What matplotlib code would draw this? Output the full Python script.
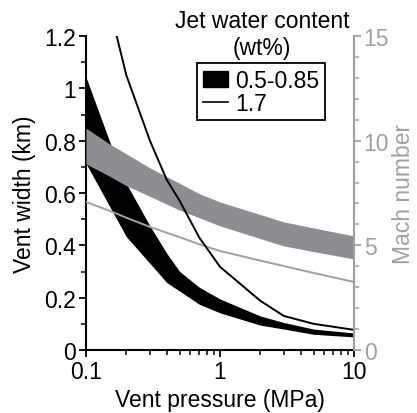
import numpy as np
import matplotlib
matplotlib.use("Agg")
import matplotlib.pyplot as plt
from matplotlib.patches import Patch
from matplotlib.lines import Line2D
from matplotlib.ticker import MultipleLocator, FormatStrFormatter, LogLocator

plt.rcParams['font.family'] = ['Liberation Sans', 'DejaVu Sans']
plt.rcParams['font.size'] = 16.5

# vent width (km), 0.5-0.85 wt% band
p_band = [0.1, 0.15, 0.2, 0.3, 0.4, 0.5, 0.7, 1, 2, 3, 5, 10]
w_band_hi = [1.043, 0.797, 0.636, 0.474, 0.37, 0.30, 0.24, 0.195, 0.13, 0.105, 0.08, 0.065]
w_band_lo = [0.713, 0.549, 0.433, 0.331, 0.258, 0.225, 0.175, 0.142, 0.095, 0.08, 0.06, 0.05]

# vent width (km), 1.7 wt%
p_17 = [0.15, 0.2, 0.3, 0.4, 0.5, 0.7, 1, 2, 3, 5, 10]
w_17 = [1.31, 1.05, 0.80, 0.651, 0.57, 0.43, 0.318, 0.188, 0.13, 0.1, 0.077]

# Mach number band and 1.7 wt% line
p_mach = [0.1, 0.15, 0.2, 0.3, 0.5, 0.7, 1, 2, 3, 5, 10]
m_band_hi = [10.6, 9.84, 9.37, 8.7, 7.96, 7.47, 7.07, 6.47, 6.12, 5.83, 5.45]
m_band_lo = [8.89, 8.3, 7.85, 7.34, 6.68, 6.32, 5.93, 5.32, 4.97, 4.7, 4.35]
m_17 = [7.07, 6.65, 6.32, 5.88, 5.39, 5.05, 4.73, 4.27, 4.01, 3.68, 3.25]

grey = '#a0a0a0'
band_grey = '#8e8e91'

fig = plt.figure(figsize=(4.17, 4.14), dpi=100)
ax = fig.add_axes([86/417, 1 - 351/414, (354 - 86)/417, (351 - 37)/414])
ax2 = ax.twinx()

ax.fill_between(p_band, w_band_lo, w_band_hi, color='black', lw=0)
ax2.fill_between(p_mach, m_band_lo, m_band_hi, color=band_grey, lw=0)
ax2.plot(p_mach, m_17, color=grey, lw=1.4)
ax2.plot(p_17, w_17, color='black', lw=1.4, transform=ax.transData, clip_on=True)

ax.set_xscale('log')
ax.set_xlim(0.1, 10)
ax.set_ylim(0, 1.2)
ax2.set_ylim(0, 15)

ax.set_xticks([0.1, 1, 10])
ax.set_xticklabels(['0.1', '1', '10'])
ax.xaxis.set_minor_locator(LogLocator(base=10, subs=np.arange(2, 10)))
ax.yaxis.set_major_locator(MultipleLocator(0.2))
ax.yaxis.set_minor_locator(MultipleLocator(0.1))
ax.yaxis.set_major_formatter(FormatStrFormatter('%g'))
ax2.yaxis.set_major_locator(MultipleLocator(5))
ax2.yaxis.set_minor_locator(MultipleLocator(1))

ax.spines['top'].set_visible(False)
ax2.spines['top'].set_visible(False)
ax.spines['right'].set_visible(False)
ax2.spines['left'].set_visible(False)
ax2.spines['bottom'].set_visible(False)
ax.spines['left'].set_linewidth(1.5)
ax.spines['bottom'].set_linewidth(1.5)
ax2.spines['right'].set_linewidth(1.5)
ax2.spines['right'].set_color(grey)

ax.tick_params(which='major', direction='out', length=5, width=1.3, pad=2)
ax.tick_params(which='minor', direction='out', length=3.5, width=1.1)
ax2.tick_params(which='major', direction='out', length=5, width=1.3, color=grey, labelcolor=grey, pad=2)
ax2.tick_params(which='minor', direction='out', length=3.5, width=1.1, color=grey)

ax.set_xlabel('Vent pressure (MPa)', labelpad=4)
ax.set_ylabel('Vent width (km)', labelpad=6)
ax2.set_ylabel('Mach number', color=grey, labelpad=2)

handles = [Patch(facecolor='black', edgecolor='black'),
           Line2D([], [], color='black', lw=1.2)]
leg = fig.legend(handles, ['0.5-0.85', '1.7'], loc='upper left',
                 bbox_to_anchor=(197/417, 1 - 64/414), frameon=True, fancybox=False,
                 edgecolor='black', framealpha=1, borderpad=0.25, handlelength=1.1,
                 handletextpad=0.3, labelspacing=0.0, borderaxespad=0)
leg.get_frame().set_linewidth(1.3)

fig.text(262/417, 1 - 10/414, 'Jet water content\n(wt%)', ha='center', va='top',
         multialignment='center', linespacing=1.2)

fig.savefig('out.png', dpi=100)
